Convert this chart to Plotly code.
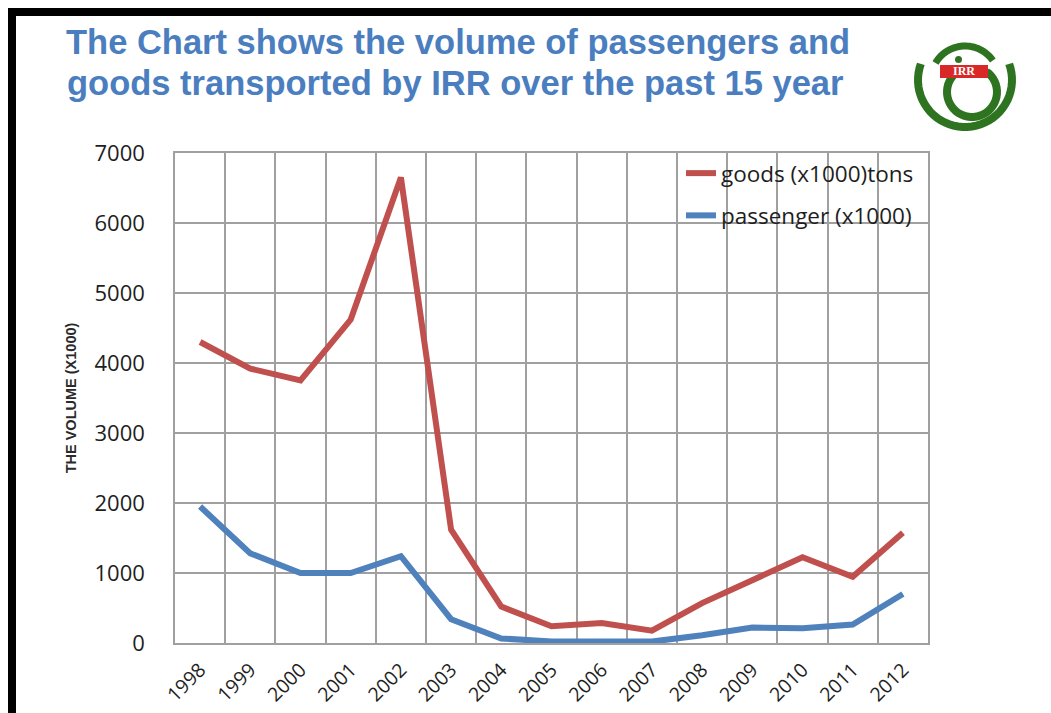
import numpy as np
import plotly.graph_objects as go

# ---- data ----
years = ["1998", "1999", "2000", "2001", "2002", "2003", "2004", "2005",
         "2006", "2007", "2008", "2009", "2010", "2011", "2012"]
goods = [4300, 3920, 3750, 4620, 6650, 1620, 520, 240, 285, 175, 570, 900, 1225, 945, 1575]
passenger = [1950, 1280, 1000, 1000, 1240, 340, 65, 20, 20, 20, 110, 220, 210, 265, 700]
y_ticks = [0, 1000, 2000, 3000, 4000, 5000, 6000, 7000]

title_line1 = "The Chart shows the volume of passengers and"
title_line2 = "goods transported by IRR over the past 15 year"
y_title = "THE VOLUME (X1000)"
name_goods = "goods (x1000)tons"
name_pass = "passenger (x1000)"

W, H = 1051, 713


def px(x):
    return x / W


def py(y):
    return 1 - y / H


RED = "#C0504D"
BLUE = "#4F81BD"
GRID = "#A0A0A0"
GREEN = "#2E7420"
TXT = "#1E1E1E"

fig = go.Figure()
fig.add_trace(go.Scatter(x=years, y=goods, mode="lines", name=name_goods,
                         legendgroup="g", line=dict(color=RED, width=6)))
fig.add_trace(go.Scatter(x=years, y=passenger, mode="lines", name=name_pass,
                         legendgroup="p", line=dict(color=BLUE, width=6)))

fig.update_layout(
    width=W, height=H,
    margin=dict(l=0, r=0, t=0, b=0, pad=0, autoexpand=False),
    paper_bgcolor="white", plot_bgcolor="white",
    showlegend=True,
    legend=dict(x=px(681), y=py(152), xanchor="left", yanchor="top",
                bgcolor="rgba(0,0,0,0)", tracegroupgap=10,
                font=dict(family="Open Sans", size=22.5, color=TXT)),
    xaxis=dict(domain=[px(175), px(928)], type="category", automargin=False,
               range=[-0.5, len(years) - 0.5],
               tickson="boundaries", showgrid=True, gridcolor=GRID, gridwidth=1.5,
               showline=True, linecolor=GRID, linewidth=1.5, mirror=True,
               ticks="", tickangle=-45, ticklabelstandoff=6,
               tickfont=dict(family="Open Sans", size=19.5, color=TXT)),
    yaxis=dict(domain=[py(643), py(153)], range=[0, 7000], automargin=False,
               tickvals=y_ticks, showgrid=True, gridcolor=GRID, gridwidth=1.5,
               showline=True, linecolor=GRID, linewidth=1.5, mirror=True,
               zeroline=False, ticks="", ticklabelstandoff=24,
               tickfont=dict(family="Open Sans", size=22, color=TXT),
               title=dict(text=y_title, standoff=14,
                          font=dict(family="Liberation Sans", size=14.5, color="#2a2a2a",
                                    weight="bold"))),
)

# title
fig.add_annotation(text=title_line1, x=px(458), y=py(42), xref="paper", yref="paper",
                   showarrow=False, xanchor="center", yanchor="middle",
                   font=dict(family="Liberation Sans", size=34.5, color="#4A7EBF", weight="bold"))
fig.add_annotation(text=title_line2, x=px(455), y=py(83), xref="paper", yref="paper",
                   showarrow=False, xanchor="center", yanchor="middle",
                   font=dict(family="Liberation Sans", size=34.5, color="#4A7EBF", weight="bold"))

shapes = []
# slide frame (black border top and left)
shapes.append(dict(type="rect", xref="paper", yref="paper", x0=px(8), x1=px(1051),
                   y0=py(16), y1=py(8), fillcolor="black", line=dict(width=0)))
shapes.append(dict(type="rect", xref="paper", yref="paper", x0=px(8), x1=px(16),
                   y0=py(713), y1=py(8), fillcolor="black", line=dict(width=0)))


# logo
def arc_path(cx, cy, r, a0, a1, n=40):
    ang = np.radians(np.linspace(a0, a1, n))
    pts = [(px(cx + r * np.cos(a)), py(cy - r * np.sin(a))) for a in ang]
    return "M " + " L ".join(f"{x:.5f},{y:.5f}" for x, y in pts)


shapes.append(dict(type="path", xref="paper", yref="paper",
                   path=arc_path(965, 80, 47, 160, 380),
                   line=dict(color=GREEN, width=8)))
shapes.append(dict(type="path", xref="paper", yref="paper",
                   path=arc_path(965, 80, 34, 150, 35),
                   line=dict(color=GREEN, width=7)))
shapes.append(dict(type="path", xref="paper", yref="paper",
                   path=arc_path(972, 92, 25, 55, -235),
                   line=dict(color=GREEN, width=8)))
shapes.append(dict(type="circle", xref="paper", yref="paper",
                   x0=px(955), x1=px(962), y0=py(63), y1=py(56),
                   fillcolor=GREEN, line=dict(width=0)))
shapes.append(dict(type="rect", xref="paper", yref="paper",
                   x0=px(940), x1=px(988), y0=py(78), y1=py(65),
                   fillcolor="#D82828", line=dict(width=0)))
fig.add_annotation(text="IRR", x=px(964), y=py(71.5), xref="paper", yref="paper",
                   showarrow=False, xanchor="center", yanchor="middle",
                   font=dict(family="Liberation Serif", size=12, color="white", weight="bold"))

fig.update_layout(shapes=shapes)

fig.write_html(
    "out.html",
    config={"displayModeBar": False},
    post_script=("document.documentElement.style.margin='0';"
                 "document.body.style.margin='0';"
                 "document.body.style.overflow='hidden';"),
)
